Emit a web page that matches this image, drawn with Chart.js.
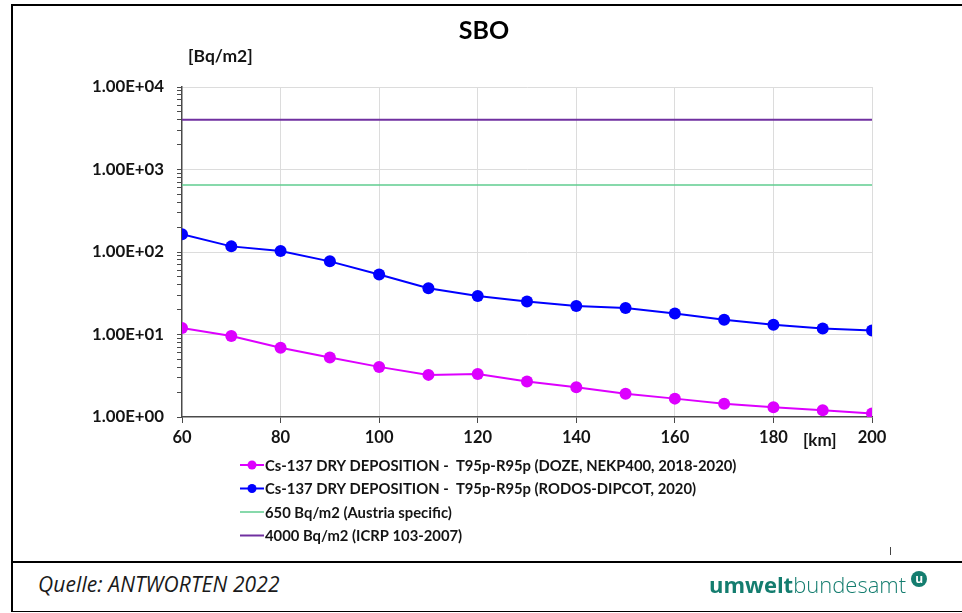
<!DOCTYPE html>
<html>
<head>
<meta charset="utf-8">
<script src="https://cdn.jsdelivr.net/npm/chart.js@4"></script>
<style>
  html, body { margin: 0; padding: 0; background: #fff; }
  #page { position: relative; width: 962px; height: 613px; overflow: hidden; background: #fff; }
  #chartBox { position: absolute; left: 0; top: 0; width: 962px; height: 560px; }
  .rule { position: absolute; background: #000; }
  .source { position: absolute; left: 38px; top: 570px; font: italic 21px "Open Sans", sans-serif; color: #1a1a1a; letter-spacing: 0.1px; }
  .logo { position: absolute; left: 709px; top: 569px; font: 22px "Open Sans", sans-serif; color: #147d6f; }
  .logo b { font-weight: 700; }
  .logo span { font-weight: 300; }
  .logo i { position: absolute; right: -21px; top: 2px; width: 16px; height: 16px; border-radius: 50%; background: #147d6f; color: #fff; font: bold 12px/15px "Open Sans", sans-serif; text-align: center; font-style: normal; }
</style>
</head>
<body>
<div id="page">
  <div id="chartBox"><canvas id="chart" width="962" height="560"></canvas></div>
  <div class="rule" style="left:11px;top:4px;width:951px;height:2px"></div>
  <div class="rule" style="left:11px;top:4px;width:2px;height:608px"></div>
  <div class="rule" style="left:11px;top:561px;width:951px;height:2px"></div>
  <div class="rule" style="left:11px;top:611px;width:951px;height:1px"></div>
  <div class="rule" style="left:890px;top:547px;width:1px;height:8px;background:#444"></div>
  <div class="source">Quelle: ANTWORTEN 2022</div>
  <div class="logo"><b>umwelt</b><span>bundesamt</span><i>u</i></div>
</div>
<script>
// Distance from the plant [km]
const distanceKm = [60, 70, 80, 90, 100, 110, 120, 130, 140, 150, 160, 170, 180, 190, 200];

// Cs-137 dry deposition, T95p-R95p [Bq/m2]
const dozeNekp400 = [12.0, 9.6, 6.9, 5.25, 4.05, 3.24, 3.33, 2.70, 2.29, 1.91, 1.67, 1.45, 1.31, 1.21, 1.10];
const rodosDipcot = [164, 117, 103, 77, 53.5, 36.4, 29.2, 25.1, 22.1, 20.9, 18.0, 15.1, 13.1, 11.8, 11.2];

// Reference levels [Bq/m2]
const austriaLevel = 650;
const icrpLevel = 4000;

const seriesNames = [
  'Cs-137 DRY DEPOSITION -  T95p-R95p (DOZE, NEKP400, 2018-2020)',
  'Cs-137 DRY DEPOSITION -  T95p-R95p (RODOS-DIPCOT, 2020)',
  '650 Bq/m2 (Austria specific)',
  '4000 Bq/m2 (ICRP 103-2007)'
];

// Decade ticks on the logarithmic axis and their labels
const yDecades = [1, 10, 100, 1000, 10000];
const yDecadeLabels = ['1.00E+00', '1.00E+01', '1.00E+02', '1.00E+03', '1.00E+04'];
const xTickValues = [60, 80, 100, 120, 140, 160, 180, 200];
const chartTitle = 'SBO';
const xUnitLabel = '[km]';
const yUnitLabel = '[Bq/m2]';
const xRange = [60, 200];

const FONT = 'Lato, "Noto Sans", sans-serif';
const TEXT = '#141414';
const GRID = '#dcdcdc';
const AXIS = '#4a4a4a';

const pairs = (ys) => distanceKm.map((x, i) => ({ x, y: ys[i] }));
const flat = (v) => xRange.map(x => ({ x, y: v }));

// Minor tick positions 1..9 within every decade
const yAllTicks = [];
for (let d = 0; d < yDecades.length - 1; d++) {
  for (let m = 1; m < 10; m++) yAllTicks.push(yDecades[d] * m);
}
yAllTicks.push(yDecades[yDecades.length - 1]);
const isDecade = (v) => yDecades.some(d => Math.abs(d - v) < 1e-9 * d);

// Legend drawn as a vertical list under the plot
const listLegend = {
  id: 'listLegend',
  afterDraw(chart) {
    const { ctx, chartArea } = chart;
    const x0 = chartArea.left + 58;
    const y0 = chartArea.bottom + 48;
    const rowH = 23.5;
    ctx.save();
    ctx.font = 'bold 14.8px ' + FONT;
    ctx.textBaseline = 'middle';
    chart.data.datasets.forEach((ds, i) => {
      const y = y0 + i * rowH;
      ctx.strokeStyle = ds.borderColor;
      ctx.lineWidth = ds.borderWidth;
      ctx.beginPath();
      ctx.moveTo(x0, y);
      ctx.lineTo(x0 + 24, y);
      ctx.stroke();
      if (ds.pointRadius > 0) {
        ctx.fillStyle = ds.pointBackgroundColor;
        ctx.beginPath();
        ctx.arc(x0 + 12, y, 4.5, 0, Math.PI * 2);
        ctx.fill();
      }
      ctx.fillStyle = TEXT;
      ctx.fillText(ds.label, x0 + 25, y + 1);
    });
    ctx.restore();
  }
};

// Title and unit captions for both axes
const captions = {
  id: 'captions',
  afterDraw(chart) {
    const { ctx, chartArea, scales } = chart;
    ctx.save();
    ctx.textBaseline = 'middle';
    ctx.textAlign = 'center';
    ctx.fillStyle = '#000';
    ctx.font = 'bold 25px ' + FONT;
    ctx.fillText(chartTitle, chart.width / 2 + 3, chartArea.top - 56);
    ctx.fillStyle = TEXT;
    ctx.textAlign = 'left';
    ctx.font = 'bold 17.5px ' + FONT;
    ctx.fillText(yUnitLabel, chartArea.left + 6, chartArea.top - 31);
    ctx.textAlign = 'center';
    ctx.font = 'bold 17px ' + FONT;
    ctx.fillText(xUnitLabel, scales.x.getPixelForValue(190) - 3, chartArea.bottom + 24);
    ctx.restore();
  }
};

new Chart(document.getElementById('chart'), {
  type: 'line',
  data: {
    datasets: [
      {
        label: seriesNames[0], data: pairs(dozeNekp400),
        borderColor: '#dd00ff', backgroundColor: '#dd00ff', pointBackgroundColor: '#dd00ff',
        borderWidth: 2, pointRadius: 6, pointBorderWidth: 0, tension: 0
      },
      {
        label: seriesNames[1], data: pairs(rodosDipcot),
        borderColor: '#0000ff', backgroundColor: '#0000ff', pointBackgroundColor: '#0000ff',
        borderWidth: 2, pointRadius: 6, pointBorderWidth: 0, tension: 0
      },
      {
        label: seriesNames[2], data: flat(austriaLevel),
        borderColor: '#5fcc8f', backgroundColor: '#5fcc8f', borderWidth: 1.5, pointRadius: 0
      },
      {
        label: seriesNames[3], data: flat(icrpLevel),
        borderColor: '#7030a0', backgroundColor: '#7030a0', borderWidth: 2, pointRadius: 0
      }
    ]
  },
  options: {
    responsive: false,
    animation: false,
    layout: { padding: { left: 12, right: 90, top: 87, bottom: 108 } },
    plugins: {
      legend: { display: false },
      tooltip: { enabled: false },
      title: { display: false }
    },
    scales: {
      x: {
        type: 'linear', min: xRange[0], max: xRange[1],
        afterBuildTicks: (s) => { s.ticks = xTickValues.map(v => ({ value: v })); },
        afterFit: (s) => { s.height = 35; },
        ticks: { color: TEXT, font: { family: FONT, size: 16.5, weight: 'bold' }, padding: 5, maxRotation: 0, autoSkip: false },
        grid: {
          color: (c) => (c.tick && c.tick.value === xRange[0]) ? 'rgba(0,0,0,0)' : GRID,
          tickColor: AXIS, tickLength: 6, lineWidth: 1
        },
        border: { color: AXIS, width: 1.5 }
      },
      y: {
        type: 'logarithmic', min: yDecades[0], max: yDecades[yDecades.length - 1],
        afterBuildTicks: (s) => { s.ticks = yAllTicks.map(v => ({ value: v, major: isDecade(v) })); },
        afterFit: (s) => { s.width = 170; },
        ticks: {
          color: TEXT, font: { family: FONT, size: 16.8, weight: 'bold' }, padding: 13, autoSkip: false,
          callback: (v) => { const i = yDecades.findIndex(d => Math.abs(d - v) < 1e-9 * d); return i >= 0 ? yDecadeLabels[i] : ''; }
        },
        grid: {
          color: (c) => (c.tick && isDecade(c.tick.value) && c.tick.value !== yDecades[0]) ? GRID : 'rgba(0,0,0,0)',
          tickColor: AXIS, tickLength: 5, lineWidth: 1
        },
        border: { color: AXIS, width: 1.5 }
      }
    }
  },
  plugins: [listLegend, captions]
});
</script>
</body>
</html>
